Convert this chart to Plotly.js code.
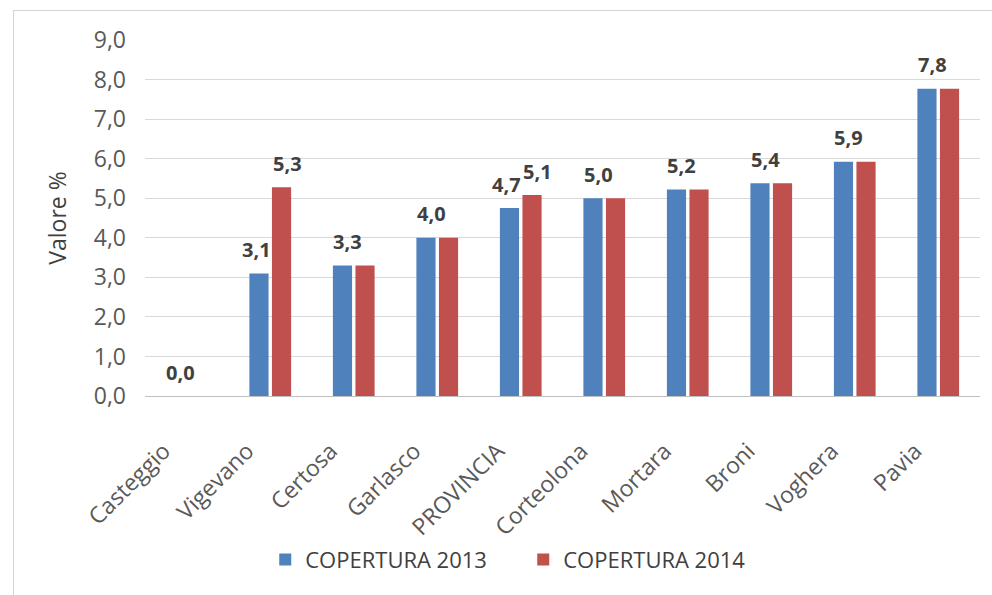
<!DOCTYPE html>
<html>
<head>
<meta charset="utf-8">
<script src="https://cdn.plot.ly/plotly-3.0.1.min.js"></script>
<style>
  html, body { margin: 0; padding: 0; background: #ffffff; overflow: hidden; }
  #chart { position: absolute; left: 0; top: 0; width: 992px; height: 595px; }
  #frame { position: absolute; left: 13px; top: 10px; width: 1000px; height: 620px;
           border: 1px solid #d4d4d4; pointer-events: none; box-sizing: border-box; }
</style>
</head>
<body>
<div id="chart"></div>
<div id="frame"></div>
<script>
var categories = ['Casteggio', 'Vigevano', 'Certosa', 'Garlasco', 'PROVINCIA', 'Corteolona', 'Mortara', 'Broni', 'Voghera', 'Pavia'];
var copertura2013 = [0.0, 3.1, 3.3, 4.0, 4.75, 5.0, 5.22, 5.38, 5.92, 7.77];
var copertura2014 = [0.0, 5.28, 3.3, 4.0, 5.08, 5.0, 5.22, 5.38, 5.92, 7.77];
var labels2013 = ['0,0', '3,1', '3,3', '4,0', '4,7', '5,0', '5,2', '5,4', '5,9', '7,8'];
var labels2014 = ['0,0', '5,3', '3,3', '4,0', '5,1', '5,0', '5,2', '5,4', '5,9', '7,8'];
var seriesNames = ['COPERTURA 2013', 'COPERTURA 2014'];

var FONT = 'Open Sans, sans-serif';
var labelFont = { family: FONT, size: 20, color: '#404040', weight: 'bold' };

var annotations = [];
for (var i = 0; i < categories.length; i++) {
  if (labels2013[i] === labels2014[i]) {
    annotations.push({ x: categories[i], y: copertura2013[i], text: '<b>' + labels2013[i] + '</b>',
      showarrow: false, xshift: -6, yshift: 24, yanchor: 'middle', font: labelFont });
  } else {
    annotations.push({ x: categories[i], y: copertura2013[i], text: '<b>' + labels2013[i] + '</b>',
      showarrow: false, xshift: -14, yshift: 24, yanchor: 'middle', font: labelFont });
    annotations.push({ x: categories[i], y: copertura2014[i], text: '<b>' + labels2014[i] + '</b>',
      showarrow: false, xshift: 17, yshift: 24, yanchor: 'middle', font: labelFont });
  }
}

var traces = [
  { type: 'bar', name: seriesNames[0], x: categories, y: copertura2013,
    marker: { color: '#4f81bd' }, hoverinfo: 'x+y' },
  { type: 'bar', name: seriesNames[1], x: categories, y: copertura2014,
    marker: { color: '#c0504d' }, hoverinfo: 'x+y' }
];

var layout = {
  width: 992, height: 595,
  margin: { l: 145, r: 12, t: 40, b: 199 },
  paper_bgcolor: 'rgba(0,0,0,0)',
  plot_bgcolor: 'rgba(0,0,0,0)',
  separators: ',.',
  barmode: 'group',
  bargap: 0.46,
  bargroupgap: 0.15,
  showlegend: true,
  legend: {
    orientation: 'h', x: 0.453, xanchor: 'center', y: -0.46, yanchor: 'middle',
    font: { family: FONT, size: 22, color: '#404040' }, traceorder: 'normal',
    entrywidth: 213, entrywidthmode: 'pixels'
  },
  xaxis: {
    type: 'category', tickangle: -45, automargin: false,
    tickfont: { family: FONT, size: 23, color: '#595959' },
    showgrid: false, showline: false, ticks: '', ticklabelstandoff: 36, ticklabelshift: -23
  },
  yaxis: {
    range: [0, 9], dtick: 1, tick0: 0, tickformat: '.1f', automargin: false,
    tickfont: { family: FONT, size: 23, color: '#595959' },
    showgrid: true, gridcolor: '#d9d9d9', gridwidth: 1,
    zeroline: true, zerolinecolor: '#bfbfbf', zerolinewidth: 1,
    showline: false, ticks: '', ticklabelstandoff: 18,
    title: { text: 'Valore %', font: { family: FONT, size: 23, color: '#404040' }, standoff: 20 }
  },
  annotations: annotations
};

Plotly.newPlot('chart', traces, layout, { displayModeBar: false, staticPlot: true });
</script>
</body>
</html>
